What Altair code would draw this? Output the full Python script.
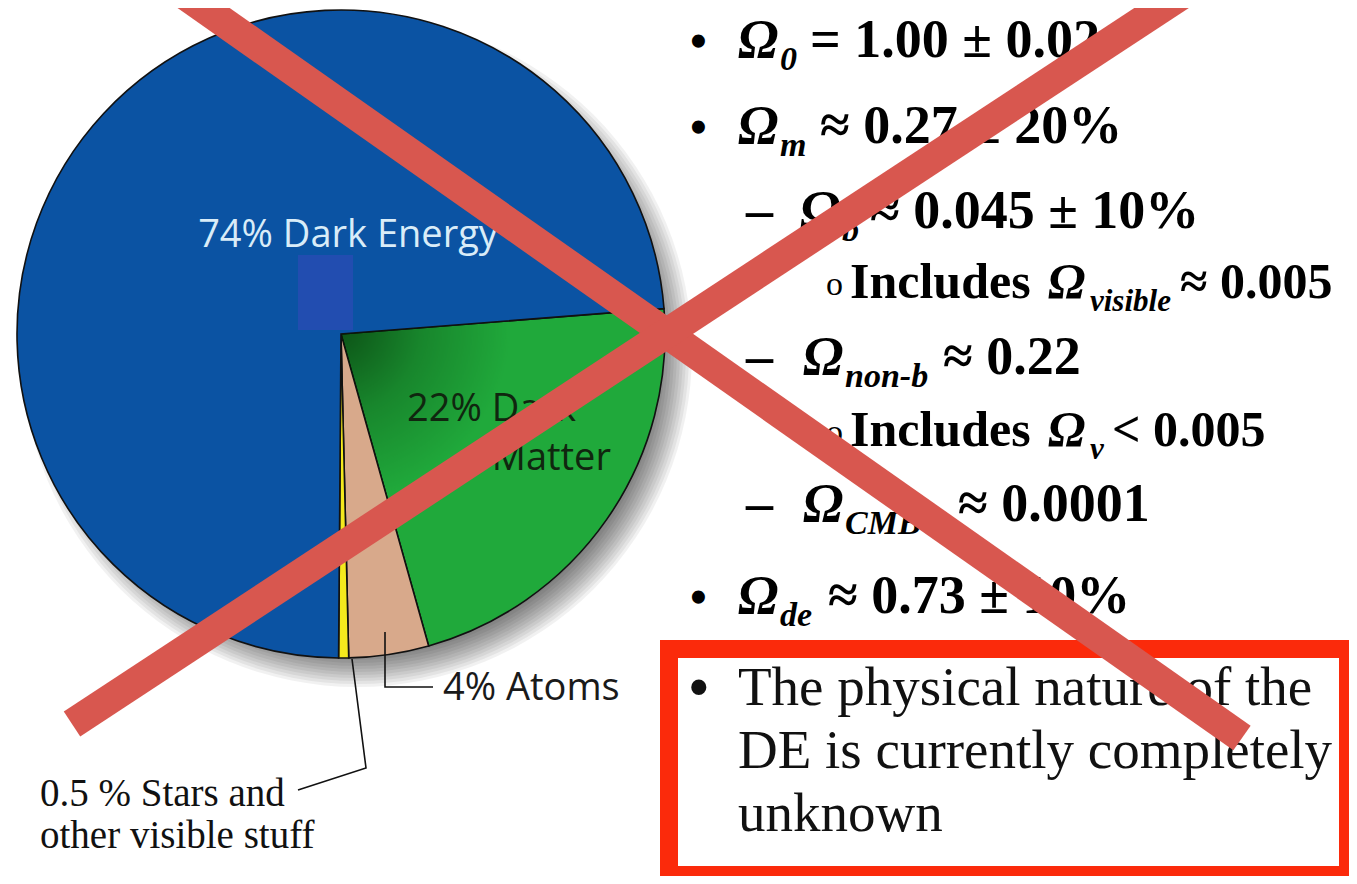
import math
import altair as alt
import pandas as pd

# ---------------- data ----------------
categories = ["22% Dark Matter", "4% Atoms", "0.5% Stars and other visible stuff", "74% Dark Energy"]
shares = [22, 4, 0.5, 74]
slice_order = [0, 1, 2, 3]
slice_colors = ["#20a93b", "#d8a98b", "#f4e91d", "#0b53a3"]

pie_labels = ["74% Dark Energy", "22% Dark", "Matter", "4% Atoms"]
stars_label = ["0.5 % Stars and", "other visible stuff"]

markers = ["•", "•", "–", "Includes", "–", "Includes", "–", "•"]
omega_subs = ["0", "m", "b", "visible", "non-b", "ν", "CMB", "de"]
omega_rest = ["= 1.00 ± 0.02", "≈ 0.27 ± 20%", "≈ 0.045 ± 10%", "≈ 0.005",
              "≈ 0.22", "< 0.005", "≈ 0.0001", "≈ 0.73 ± 10%"]
box_lines = ["The physical nature of the", "DE is currently completely", "unknown"]

# ---------------- layout (reference pixel frame) ----------------
CX, CY, R = 341, 334, 324
START = math.radians(85.5)
XS = alt.Scale(domain=[8, 1349], range=[0, 1341], nice=False, zero=False)
YS = alt.Scale(domain=[8, 876], range=[0, 868], nice=False, zero=False)


def X(f):
    return alt.X(f, type="quantitative", scale=XS, axis=None)


def Y(f):
    return alt.Y(f, type="quantitative", scale=YS, axis=None)


def DX(v):
    return alt.X(datum=v, type="quantitative", scale=XS, axis=None)


def DY(v):
    return alt.Y(datum=v, type="quantitative", scale=YS, axis=None)


one = pd.DataFrame({"k": [0]})

# soft drop shadow to the lower right
shadow_layers = []
for k in range(12):
    shadow_layers.append(
        alt.Chart(one).mark_arc(radius=R - 22 + 3 * k, theta=0, theta2=2 * math.pi,
                                fill="#000000", opacity=0.055, stroke=None)
        .encode(x=DX(CX + 16), y=DY(CY + 18))
    )

pie_df = pd.DataFrame({"cat": categories, "share": shares, "ord": slice_order})
theta = alt.Theta("share:Q", stack=True,
                  scale=alt.Scale(range=[START, START + 2 * math.pi]))
pie = alt.Chart(pie_df).mark_arc(radius=R, stroke="#111111", strokeWidth=1.6).encode(
    theta=theta,
    color=alt.Color("cat:N", scale=alt.Scale(domain=categories, range=slice_colors), legend=None),
    order=alt.Order("ord:Q"),
    x=DX(CX), y=DY(CY),
)

green_grad = {
    "gradient": "radial", "x1": 0.0, "y1": 0.05, "r1": 0.0, "x2": 0.0, "y2": 0.05, "r2": 0.75,
    "stops": [
        {"offset": 0.0, "color": "rgba(0,30,0,0.65)"},
        {"offset": 0.35, "color": "rgba(0,30,0,0.25)"},
        {"offset": 0.7, "color": "rgba(0,30,0,0.0)"},
        {"offset": 1.0, "color": "rgba(0,30,0,0.0)"},
    ],
}
shade = alt.Chart(pie_df).mark_arc(radius=R - 1, strokeWidth=0).encode(
    theta=theta,
    detail="cat:N",
    order=alt.Order("ord:Q"),
    fill=alt.condition(alt.datum.cat == categories[0], alt.value(green_grad), alt.value("transparent")),
    x=DX(CX), y=DY(CY),
)

square = alt.Chart(one).mark_rect(color="#224db0").encode(
    x=DX(298), x2=alt.X2(datum=353), y=DY(255), y2=alt.Y2(datum=330))

lab_df = pd.DataFrame({"t": pie_labels, "x": [348, 407, 611, 443], "y": [247, 421, 470, 700],
                       "c": ["#d9ecf8", "#10260f", "#10260f", "#1a1a1a"],
                       "a": ["center", "left", "right", "left"]})
lab_layers = []
for i in range(len(lab_df)):
    lab_layers.append(
        alt.Chart(lab_df.iloc[[i]]).mark_text(font="Open Sans", fontSize=38, baseline="alphabetic",
                                              align=lab_df["a"][i], color=lab_df["c"][i])
        .encode(x=X("x"), y=Y("y"), text="t:N")
    )

lead_df = pd.DataFrame({
    "id": [0, 0, 0, 1, 1, 1],
    "seq": [0, 1, 2, 0, 1, 2],
    "x": [385, 385, 433, 352, 366, 298],
    "y": [632, 687, 687, 659, 768, 790],
})
leaders = alt.Chart(lead_df).mark_line(color="#111111", strokeWidth=1.6).encode(
    x=X("x"), y=Y("y"), detail="id:N", order="seq:Q")

SERIF = "Liberation Serif"
stars_df = pd.DataFrame({"t": stars_label, "x": [40, 40], "y": [806, 848]})
stars = alt.Chart(stars_df).mark_text(font=SERIF, fontSize=39, align="left",
                                      baseline="alphabetic", color="#111111").encode(
    x=X("x"), y=Y("y"), text="t:N")

# right-hand bullet text
base_y = [57, 143, 228, 298, 374, 446, 521, 613]
omega_x = [738, 738, 800, 1048, 803, 1048, 803, 738]
omega_size = [54, 54, 54, 50, 54, 50, 54, 54]
sub_size = [34, 34, 34, 31, 34, 31, 34, 34]
rest_x = [810, 820, 870, 1180, 943, 1112, 958, 828]
marker_x = [690, 690, 746, 850, 746, 850, 746, 690]

om_df = pd.DataFrame({"t": ["Ω"] * 8, "x": omega_x, "y": base_y, "s": omega_size})
sub_df = pd.DataFrame({"t": omega_subs, "x": [v + 42 for v in omega_x],
                       "y": [v + 13 for v in base_y], "s": sub_size})
rest_df = pd.DataFrame({"t": omega_rest, "x": rest_x, "y": base_y, "s": omega_size})
mk_df = pd.DataFrame({"t": markers, "x": marker_x, "y": base_y, "s": omega_size})
bul_df = mk_df[mk_df["t"] == "•"]
dash_df = mk_df[mk_df["t"] != "•"]
circ_df = pd.DataFrame({"t": ["o", "o"], "x": [826, 826], "y": [base_y[3] - 3, base_y[5] - 3]})

SZ = alt.Size("s:Q", scale=None, legend=None)
om = alt.Chart(om_df).mark_text(font=SERIF, fontWeight="bold", fontStyle="italic",
                                align="left", baseline="alphabetic", color="#000").encode(
    x=X("x"), y=Y("y"), text="t:N", size=SZ)
sub = alt.Chart(sub_df).mark_text(font=SERIF, fontWeight="bold", fontStyle="italic",
                                  align="left", baseline="alphabetic", color="#000").encode(
    x=X("x"), y=Y("y"), text="t:N", size=SZ)
rest = alt.Chart(rest_df).mark_text(font=SERIF, fontWeight="bold",
                                    align="left", baseline="alphabetic", color="#000").encode(
    x=X("x"), y=Y("y"), text="t:N", size=SZ)
dash = alt.Chart(dash_df).mark_text(font=SERIF, fontWeight="bold",
                                    align="left", baseline="alphabetic", color="#000").encode(
    x=X("x"), y=Y("y"), text="t:N", size=SZ)
bul = alt.Chart(bul_df).mark_text(font=SERIF, fontSize=48, fontWeight="bold",
                                  align="left", baseline="alphabetic", color="#000").encode(
    x=X("x"), y=Y("y"), text="t:N")
circ = alt.Chart(circ_df).mark_text(font=SERIF, fontSize=34,
                                    align="left", baseline="alphabetic", color="#000").encode(
    x=X("x"), y=Y("y"), text="t:N")

box = alt.Chart(one).mark_rect(fill="#ffffff", fillOpacity=0, stroke="#fb2a0b", strokeWidth=18).encode(
    x=DX(669), x2=alt.X2(datum=1348), y=DY(649), y2=alt.Y2(datum=875))

box_df = pd.DataFrame({"t": box_lines, "x": [738, 738, 738], "y": [705, 768, 831]})
box_txt = alt.Chart(box_df).mark_text(font=SERIF, fontSize=55, align="left",
                                      baseline="alphabetic", color="#111").encode(
    x=X("x"), y=Y("y"), text="t:N")
box_bul = alt.Chart(pd.DataFrame({"t": ["•"], "x": [689], "y": [706]})).mark_text(
    font=SERIF, fontSize=56, fontWeight="bold", align="left", baseline="alphabetic",
    color="#111").encode(x=X("x"), y=Y("y"), text="t:N")

cross_df = pd.DataFrame({"x0": [178, 72], "y0": [-10, 724], "x1": [1242, 1192], "y1": [738, -12]})
cross = alt.Chart(cross_df).mark_rule(color="#d8574f", strokeWidth=30, strokeCap="butt").encode(
    x=X("x0"), y=Y("y0"), x2=alt.X2("x1"), y2=alt.Y2("y1"))

chart = alt.layer(
    *shadow_layers, pie, shade, square, *lab_layers, leaders, stars,
    om, sub, rest, dash, bul, circ, box, box_txt, box_bul, cross,
).properties(width=1341, height=868, padding=0, autosize="none", background="#ffffff"
).configure_view(stroke=None)

chart.save("out.html", embed_options={"renderer": "svg", "actions": False})
